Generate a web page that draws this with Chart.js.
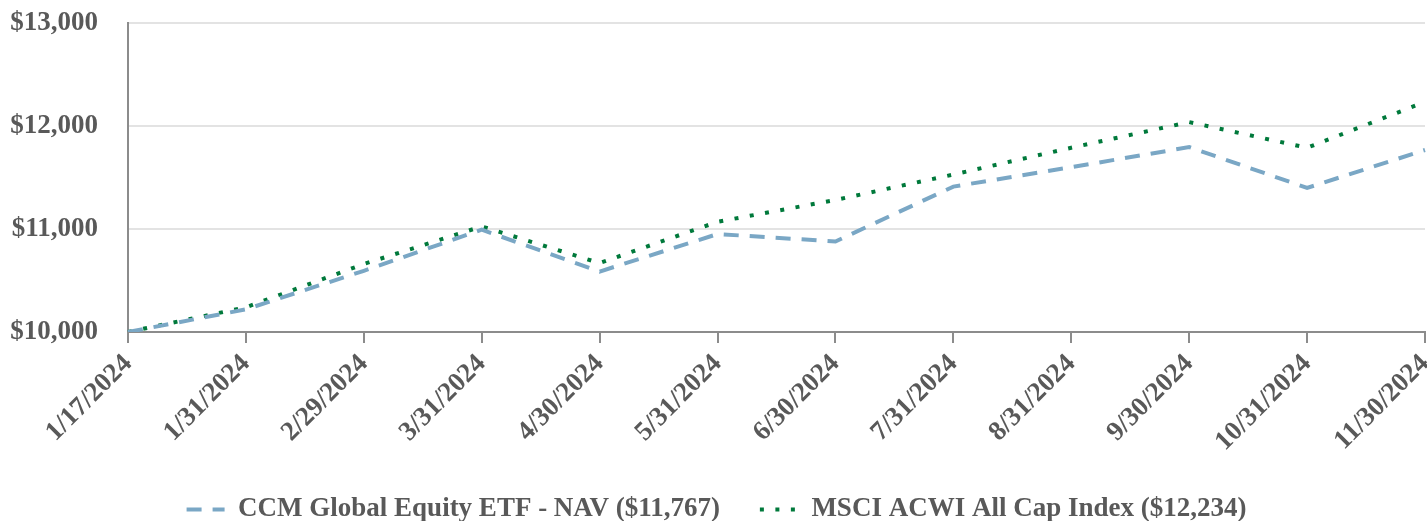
<!DOCTYPE html>
<html lang="en">
<head>
  <meta charset="UTF-8">
  <title>Growth of $10,000</title>
  <script src="https://cdn.jsdelivr.net/npm/chart.js@4.4.4/dist/chart.umd.min.js"></script>
  <style>
    html, body { margin: 0; padding: 0; background: #fff; }
    #wrap { width: 1427px; height: 521px; position: relative; }
  </style>
</head>
<body>
  <div id="wrap"><canvas id="chart-1"></canvas></div>
  <script>
    const dates = ["1/17/2024", "1/31/2024", "2/29/2024", "3/31/2024", "4/30/2024", "5/31/2024",
      "6/30/2024", "7/31/2024", "8/31/2024", "9/30/2024", "10/31/2024", "11/30/2024"];
    const navValues = [10000, 10220, 10594, 10993, 10587, 10951, 10879, 11412, 11600, 11795, 11399, 11767];
    const msciValues = [10000, 10240, 10660, 11025, 10669, 11070, 11282, 11529, 11789, 12038, 11789, 12234];
    const yTicks = [10000, 11000, 12000, 13000];

    const textGray = '#595959';
    const axisGray = '#8c8c8c';
    const fontFamily = '"Liberation Serif", "Times New Roman", serif';

    const config = {
      type: 'line',
      data: {
        labels: dates,
        datasets: [
          {
            label: 'CCM Global Equity ETF - NAV ($11,767)',
            data: navValues,
            borderColor: '#7aa7c5',
            backgroundColor: '#7aa7c5',
            borderWidth: 4,
            borderDash: [15, 11],
            pointRadius: 0,
            tension: 0,
            pointStyle: 'line'
          },
          {
            label: 'MSCI ACWI All Cap Index ($12,234)',
            data: msciValues,
            borderColor: '#00793b',
            backgroundColor: '#00793b',
            borderWidth: 4,
            borderDash: [4, 11.5],
            pointRadius: 0,
            tension: 0,
            pointStyle: 'line'
          }
        ]
      },
      options: {
        responsive: true,
        maintainAspectRatio: false,
        animation: false,
        layout: { padding: { top: 23, right: 2, left: 8, bottom: -12 } },
        scales: {
          x: {
            type: 'category',
            offset: false,
            grid: { drawOnChartArea: false, drawTicks: true, tickLength: 11, color: axisGray, lineWidth: 2 },
            border: { display: true, color: axisGray, width: 2 },
            ticks: {
              maxRotation: 45, minRotation: 45, autoSkip: false, padding: 5,
              color: textGray, font: { family: fontFamily, size: 27, weight: 'bold' }
            },
            afterFit: function (axis) {
              axis.height = 124;
              axis.paddingLeft = 0;
              axis.paddingRight = 0;
            }
          },
          y: {
            min: 10000, max: 13000,
            afterBuildTicks: function (axis) { axis.ticks = yTicks.map(v => ({ value: v })); },
            grid: { color: '#e3e3e3', lineWidth: 2, drawTicks: false },
            border: { display: true, color: axisGray, width: 2 },
            ticks: {
              padding: 30, color: textGray,
              font: { family: fontFamily, size: 27, weight: 'bold' },
              callback: v => '$' + v.toLocaleString('en-US')
            },
            afterFit: function (axis) {
              axis.width = 120;
              axis.paddingTop = 0;
              axis.paddingBottom = 0;
            }
          }
        },
        plugins: {
          legend: {
            position: 'bottom',
            labels: {
              usePointStyle: true,
              pointStyleWidth: 38,
              padding: 40,
              color: textGray,
              font: { family: fontFamily, size: 27, weight: 'bold' },
              generateLabels: function (chart) {
                const items = Chart.defaults.plugins.legend.labels.generateLabels(chart);
                return items.map((item, i) => Object.assign(item, {
                  lineDash: chart.data.datasets[i].borderDash,
                  lineWidth: chart.data.datasets[i].borderWidth,
                  strokeStyle: chart.data.datasets[i].borderColor,
                  pointStyle: 'line'
                }));
              }
            }
          },
          tooltip: { enabled: false }
        }
      }
    };

    new Chart(document.getElementById('chart-1'), config);
  </script>
</body>
</html>
